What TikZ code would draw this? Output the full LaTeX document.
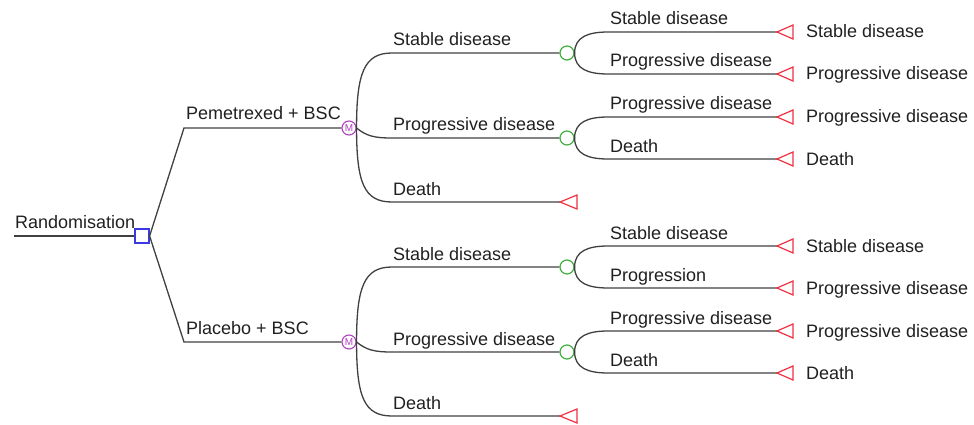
\documentclass[tikz,border=0pt]{standalone}
\usepackage{fontspec}
\setmainfont{Liberation Sans}
\definecolor{linegray}{HTML}{404040}
\definecolor{textgray}{HTML}{202020}
\definecolor{decblue}{HTML}{3A3AE0}
\definecolor{markpurple}{HTML}{B040C0}
\definecolor{chancegreen}{HTML}{40B040}
\definecolor{termred}{HTML}{F03040}
\begin{document}
\begin{tikzpicture}[x=1pt,y=-1pt,
    branch/.style={draw=linegray, line width=1.3pt},
    lbl/.style={anchor=base west, inner sep=0pt, text=textgray, font=\fontsize{18}{20}\selectfont},
    decision/.style={draw=decblue, line width=1.2pt, minimum size=14pt, inner sep=0pt, fill=white},
    markov/.style={circle, draw=markpurple, line width=1.1pt, minimum size=14pt, inner sep=0pt, fill=white, text=markpurple, font=\fontsize{10}{10}\selectfont},
    chance/.style={circle, draw=chancegreen, line width=1.2pt, minimum size=14pt, inner sep=0pt, fill=white},
    termtri/.style={draw=termred, line width=1.2pt}]
    \useasboundingbox (0,0) rectangle (974,425);

    % Entscheidungsknoten
    \coordinate (root) at (14,236);
    \node[decision] (rand) at (142,236) {};
    \draw[branch] (root) -- (rand.west);
    \node[lbl] (lrand) at (15,228) {Randomisation};

    % beide Arme
    \foreach \arm/\dy/\trt/\prog in {A/0/Pemetrexed + BSC/Progressive disease, B/214/Placebo + BSC/Progression} {
        \coordinate (arm\arm) at (184,128+\dy);
        \node[markov] (mk\arm) at (349,128+\dy) {M};
        \draw[branch] (rand.east) -- (arm\arm) -- (mk\arm.west);
        \node[lbl] (trt\arm) at (186,120+\dy) {\trt};

        % Markov-Zustaende
        \coordinate (sd\arm) at (392,53+\dy);
        \coordinate (pd\arm) at (392,138+\dy);
        \coordinate (dt\arm) at (392,202+\dy);
        \node[chance] (csd\arm) at (567,53+\dy) {};
        \node[chance] (cpd\arm) at (567,138+\dy) {};
        \coordinate (tdt\arm) at (560,202+\dy);
        \draw[branch] (mk\arm.east) .. controls +(0,-55) and +(-28,0) .. (sd\arm) -- (csd\arm.west);
        \draw[branch] (mk\arm.east) .. controls +(10,8) and +(-18,0) .. (pd\arm) -- (cpd\arm.west);
        \draw[branch] (mk\arm.east) .. controls +(0,55) and +(-28,0) .. (dt\arm) -- (tdt\arm);
        \draw[termtri] (tdt\arm) -- ++(17,-7) -- ++(0,14) -- cycle;
        \node[lbl] (lsd\arm) at (393,46+\dy) {Stable disease};
        \node[lbl] (lpd\arm) at (393,131+\dy) {Progressive disease};
        \node[lbl] (ldt\arm) at (393,195+\dy) {Death};

        % Uebergaenge und Endknoten
        \foreach \src/\ty/\up/\sub/\out in {csd/32/-1/Stable disease/Stable disease, csd/74/1/\prog/Progressive disease, cpd/117/-1/Progressive disease/Progressive disease, cpd/159/1/Death/Death} {
            \coordinate (s\arm\ty) at (608,\ty+\dy);
            \coordinate (t\arm\ty) at (777,\ty+\dy);
            \draw[branch] (\src\arm.east) .. controls +(0,{16*\up}) and +(-20,0) .. (s\arm\ty) -- (t\arm\ty);
            \draw[termtri] (t\arm\ty) -- ++(16,-7) -- ++(0,14) -- cycle;
            \node[lbl] (l\arm\ty) at (610,\ty+\dy-7) {\sub};
            \node[lbl] (e\arm\ty) at (806,\ty+\dy+6) {\out};
        }
    }
\end{tikzpicture}
\end{document}
